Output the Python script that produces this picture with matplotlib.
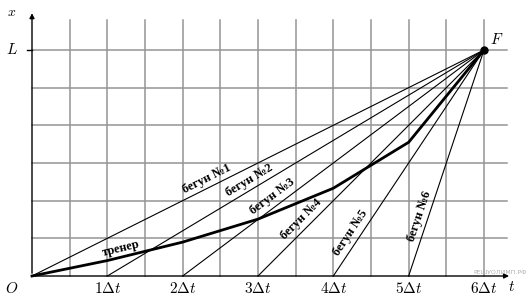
import numpy as np
import matplotlib
matplotlib.use('Agg')
import matplotlib.pyplot as plt

plt.rcParams['mathtext.fontset'] = 'cm'

# время в единицах Δt, координата в клетках сетки (L = 6 клеток)
L = 6
t_finish = 6
runner_start = [0, 1, 2, 3, 4, 5]
runner_names = ['бегун №1', 'бегун №2', 'бегун №3', 'бегун №4', 'бегун №5', 'бегун №6']
label_pos = [(2.32, 2.57), (2.88, 2.55), (3.19, 2.11), (3.58, 1.51), (4.23, 1.14), (5.15, 1.59)]

coach_t = [0, 1, 2, 3, 4, 5, 6]
coach_x = [0, 0.41, 0.90, 1.51, 2.33, 3.55, 6]

tick_t = [1, 2, 3, 4, 5, 6]
tick_labels = [r'$1\Delta t$', r'$2\Delta t$', r'$3\Delta t$', r'$4\Delta t$', r'$5\Delta t$', r'$6\Delta t$']

fig = plt.figure(figsize=(5.27, 3.0), dpi=100)
ax = fig.add_axes([0, 0, 1, 1])
ax.set_xlim(-32 / 75.33, (527 - 32) / 75.33)
ax.set_ylim(-24 / 37.67, (300 - 24) / 37.67)
ax.axis('off')

# сетка
grid_col = '#959595'
for tv in np.arange(0.5, 6.01, 0.5):
    ax.plot([tv, tv], [0, 6.8], color=grid_col, lw=1.1, zorder=1)
for xv in range(1, 7):
    ax.plot([0, 6.3], [xv, xv], color=grid_col, lw=1.1, zorder=1)

# оси
ax.annotate('', xy=(0, 7.05), xytext=(0, 0),
            arrowprops=dict(arrowstyle='-|>', color='black', lw=1.0, mutation_scale=7))
ax.annotate('', xy=(6.37, 0), xytext=(0, 0),
            arrowprops=dict(arrowstyle='-|>', color='black', lw=1.0, mutation_scale=7))
ax.plot([-0.06, 0], [L, L], color='black', lw=1.0)

# бегуны
for ts, name, (lx, ly) in zip(runner_start, runner_names, label_pos):
    ax.plot([ts, t_finish], [0, L], color='black', lw=0.8, zorder=3)
    p1 = ax.transData.transform((ts, 0))
    p2 = ax.transData.transform((t_finish, L))
    ang = np.degrees(np.arctan2(p2[1] - p1[1], p2[0] - p1[0]))
    ax.text(lx, ly, name, rotation=ang, ha='center', va='center',
            rotation_mode='anchor', fontsize=9, fontweight='bold',
            family='Liberation Serif', zorder=4)

# тренер
ax.plot(coach_t, coach_x, color='black', lw=2.0, zorder=3)
p1 = ax.transData.transform((coach_t[1], coach_x[1]))
p2 = ax.transData.transform((coach_t[2], coach_x[2]))
ang = np.degrees(np.arctan2(p2[1] - p1[1], p2[0] - p1[0]))
ax.text(1.18, 0.72, 'тренер', rotation=ang, ha='center', va='center',
        rotation_mode='anchor', fontsize=9, fontweight='bold',
        family='Liberation Serif', zorder=4)

ax.plot([t_finish], [L], 'o', color='black', markersize=5, zorder=5)

# подписи
for tv, lab in zip(tick_t, tick_labels):
    ax.text(tv, -0.32, lab, ha='center', va='center', fontsize=11)
ax.text(-0.27, -0.32, r'$O$', ha='center', va='center', fontsize=11)
ax.text(6.37, -0.28, r'$t$', ha='center', va='center', fontsize=11)
ax.text(-0.27, 7.0, r'$x$', ha='center', va='center', fontsize=10)
ax.text(-0.27, L, r'$L$', ha='center', va='center', fontsize=11)
ax.text(6.17, 6.27, r'$F$', ha='center', va='center', fontsize=11)

ax.text(6.57, 0.1, 'РЕШУОЛИМП.РФ', ha='right', va='center', fontsize=4.5,
        color='#b0b0b0')

fig.savefig('out.png', dpi=100)
